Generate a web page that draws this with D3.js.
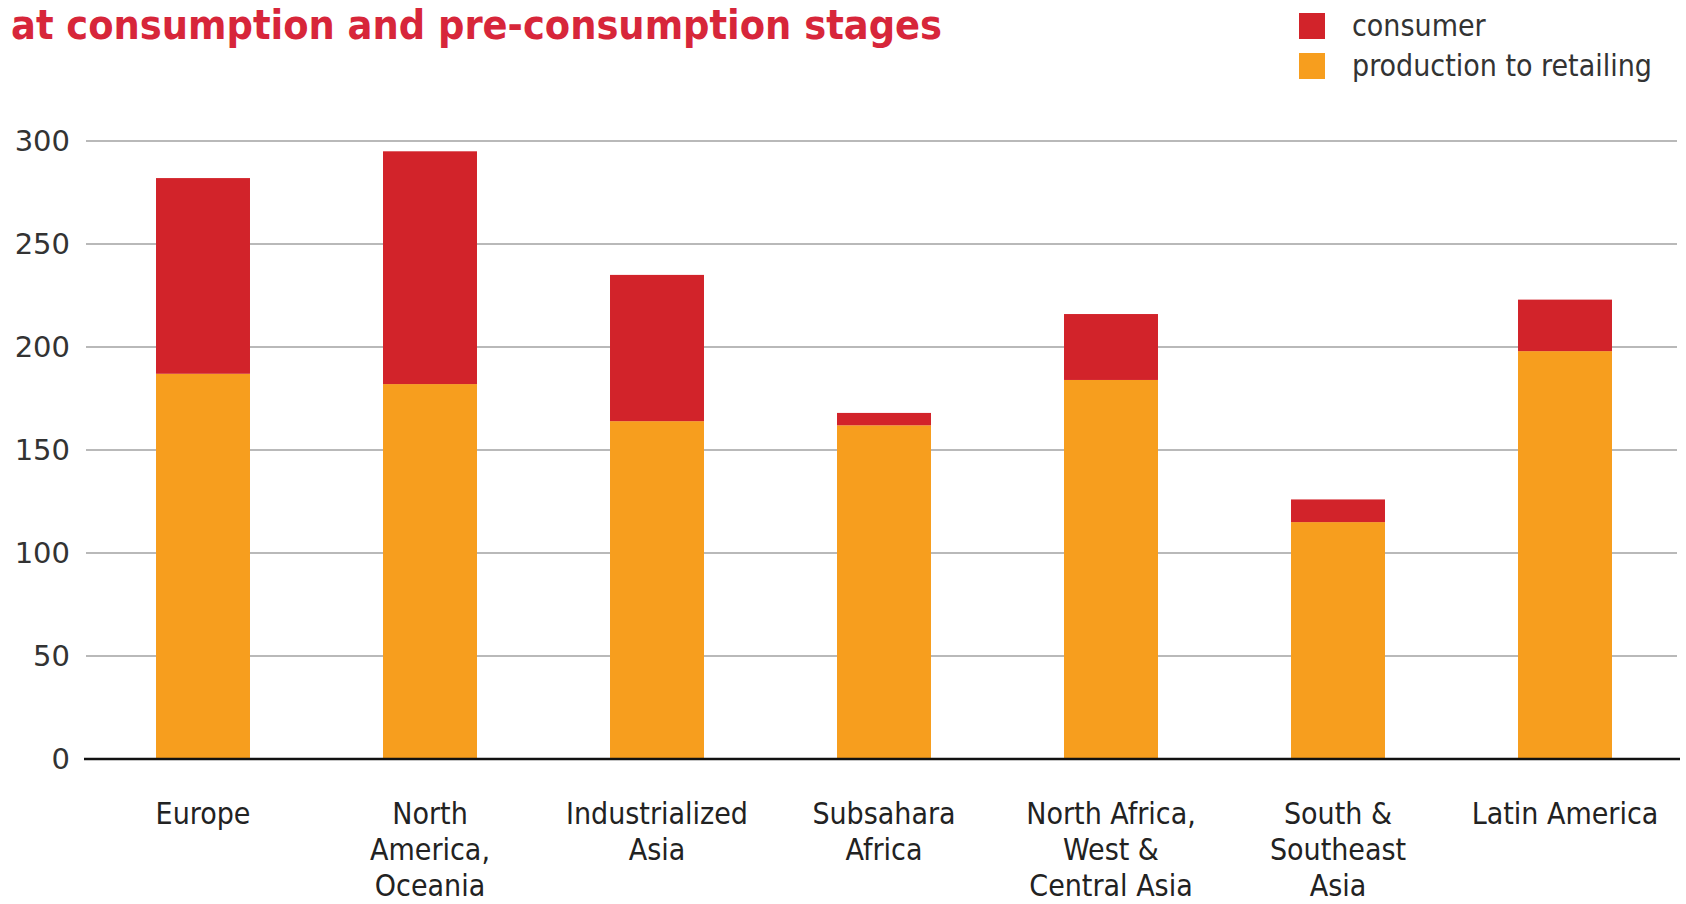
<!DOCTYPE html>
<html>
<head>
<meta charset="utf-8">
<script src="https://cdn.jsdelivr.net/npm/d3@7"></script>
<style>
  body { margin: 0; background: #fff; }
  svg { display: block; }
</style>
</head>
<body>
<script>
// data (kg per capita per year)
var categories = ["Europe", "North America, Oceania", "Industrialized Asia", "Subsahara Africa",
    "North Africa, West & Central Asia", "South & Southeast Asia", "Latin America"];
var labelLines = [["Europe"], ["North", "America,", "Oceania"], ["Industrialized", "Asia"],
    ["Subsahara", "Africa"], ["North Africa,", "West &", "Central Asia"],
    ["South &", "Southeast", "Asia"], ["Latin America"]];
var production = [187, 182, 164, 162, 184, 115, 198];
var consumer = [95, 113, 71, 6, 32, 11, 25];
var yTicks = [0, 50, 100, 150, 200, 250, 300];
var seriesNames = ["consumer", "production to retailing"];
var colors = { "consumer": "#d2232a", "production to retailing": "#f79e1e" };

var W = 1686, H = 904;
var labelFont = "'Liberation Sans Narrow', 'DejaVu Sans Condensed', sans-serif";

var svg = d3.select("body").append("svg")
    .attr("width", W)
    .attr("height", H);

// scales
var x = d3.scaleBand()
    .domain(categories)
    .range([89.5, 1678.5])
    .paddingInner(0.586)
    .paddingOuter(0.293);
var y = d3.scaleLinear()
    .domain([0, 300])
    .range([759, 141]);

// title
svg.append("text")
    .attr("x", 11)
    .attr("y", 39)
    .attr("fill", "#d7263a")
    .style("font-family", labelFont)
    .style("font-weight", "bold")
    .style("font-size", "41px")
    .text("at consumption and pre-consumption stages");

// gridlines
svg.append("g")
    .selectAll("line")
    .data(yTicks.filter(function (d) { return d > 0; }))
    .enter().append("line")
    .attr("x1", 86)
    .attr("x2", 1677)
    .attr("y1", function (d) { return y(d); })
    .attr("y2", function (d) { return y(d); })
    .attr("stroke", "#b9b9b9")
    .attr("stroke-width", 2);

// y axis labels
var yAxis = svg.append("g")
    .attr("transform", "translate(86,0)")
    .call(d3.axisLeft(y).tickValues(yTicks).tickSize(0).tickPadding(16));
yAxis.select(".domain").remove();
yAxis.selectAll("text")
    .attr("fill", "#333")
    .style("font-family", "'DejaVu Sans', sans-serif")
    .style("font-size", "29px");

// stacked data
var rows = categories.map(function (c, i) {
    return { cat: c, "production to retailing": production[i], "consumer": consumer[i] };
});
var stack = d3.stack().keys(["production to retailing", "consumer"]);
var layers = stack(rows);

svg.append("g")
    .selectAll("g")
    .data(layers)
    .enter().append("g")
    .attr("fill", function (d) { return colors[d.key]; })
    .selectAll("rect")
    .data(function (d) { return d; })
    .enter().append("rect")
    .attr("x", function (d) { return x(d.data.cat); })
    .attr("width", x.bandwidth())
    .attr("y", function (d) { return y(d[1]); })
    .attr("height", function (d) { return y(d[0]) - y(d[1]); });

// x axis line
svg.append("line")
    .attr("x1", 84)
    .attr("x2", 1680)
    .attr("y1", y(0))
    .attr("y2", y(0))
    .attr("stroke", "#111")
    .attr("stroke-width", 2.5);

// category labels
var lab = svg.append("g")
    .selectAll("text")
    .data(categories)
    .enter().append("text")
    .attr("text-anchor", "middle")
    .attr("fill", "#222")
    .style("font-family", labelFont)
    .style("font-size", "30px")
    .attr("transform", function (d) {
        return "translate(" + (x(d) + x.bandwidth() / 2) + ",824)";
    });
lab.selectAll("tspan")
    .data(function (d, i) { return labelLines[i]; })
    .enter().append("tspan")
    .attr("x", 0)
    .attr("dy", function (d, i) { return i === 0 ? 0 : 36; })
    .text(function (d) { return d; });

// legend
var legend = svg.append("g")
    .selectAll("g")
    .data(seriesNames)
    .enter().append("g")
    .attr("transform", function (d, i) { return "translate(1299," + (13 + i * 40) + ")"; });
legend.append("rect")
    .attr("width", 26)
    .attr("height", 26)
    .attr("fill", function (d) { return colors[d]; });
legend.append("text")
    .attr("x", 53)
    .attr("y", 23)
    .attr("fill", "#333")
    .style("font-family", labelFont)
    .style("font-size", "30px")
    .text(function (d) { return d; });
</script>
</body>
</html>
